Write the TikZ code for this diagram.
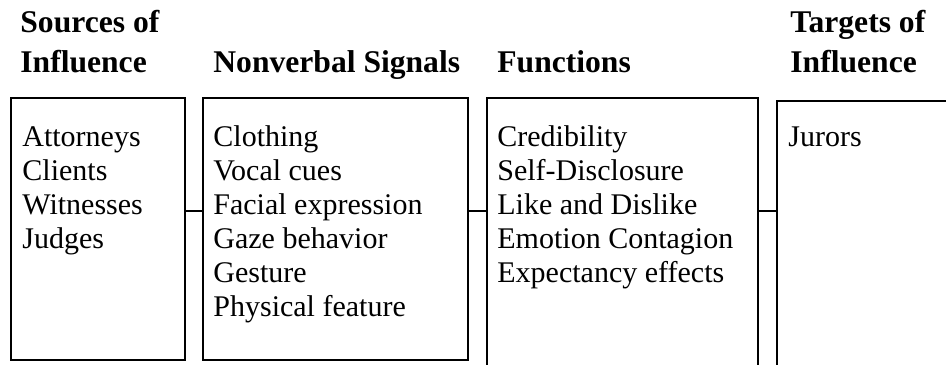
\documentclass[tikz,border=0pt]{standalone}
\usepackage{fontspec}
\setmainfont{Liberation Serif}
\usetikzlibrary{positioning}

\tikzset{
	box/.style={draw, line width=0.9pt, rectangle, inner sep=0pt, anchor=north west},
	head/.style={font=\fontsize{15.8}{20}\selectfont\bfseries, align=left, anchor=base west, inner sep=0pt},
	item/.style={font=\fontsize{15}{17}\selectfont, align=left, anchor=base west, inner sep=0pt},
	link/.style={line width=0.9pt}
}

\begin{document}
\begin{tikzpicture}[x=0.5pt, y=-0.5pt]
	\useasboundingbox (0,0) rectangle (946,364);
	% Headings (anchored on the last line)
	\node[head] (srchead) at (20,72) {Sources of\\Influence};
	\node[head] (sighead) at (213,72) {Nonverbal Signals};
	\node[head] (funhead) at (497,72) {Functions};
	\node[head] (tgthead) at (790,72) {Targets of\\Influence};
	% Boxes
	\node[box, minimum width=87pt, minimum height=131pt] (src) at (10,97) {};
	\node[box, minimum width=132.5pt, minimum height=131pt] (sig) at (202,97) {};
	\node[box, minimum width=135.5pt, minimum height=135.5pt] (fun) at (486,97) {};
	\node[box, minimum width=92pt, minimum height=134pt] (tgt) at (776,100) {};
	% Lists (anchored on the last line, 34 per line)
	\node[item] (srclist) at (22,248) {Attorneys\\Clients\\Witnesses\\Judges};
	\node[item] (siglist) at (213,316) {Clothing\\Vocal cues\\Facial expression\\Gaze behavior\\Gesture\\Physical feature};
	\node[item] (funlist) at (497,282) {Credibility\\Self-Disclosure\\Like and Dislike\\Emotion Contagion\\Expectancy effects};
	\node[item] (tgtlist) at (788,146) {Jurors};
	% Connectors
	\coordinate (row) at (0,211);
	\draw[link] (src.east |- row) -- (sig.west |- row);
	\draw[link] (sig.east |- row) -- (fun.west |- row);
	\draw[link] (fun.east |- row) -- (tgt.west |- row);
\end{tikzpicture}
\end{document}
